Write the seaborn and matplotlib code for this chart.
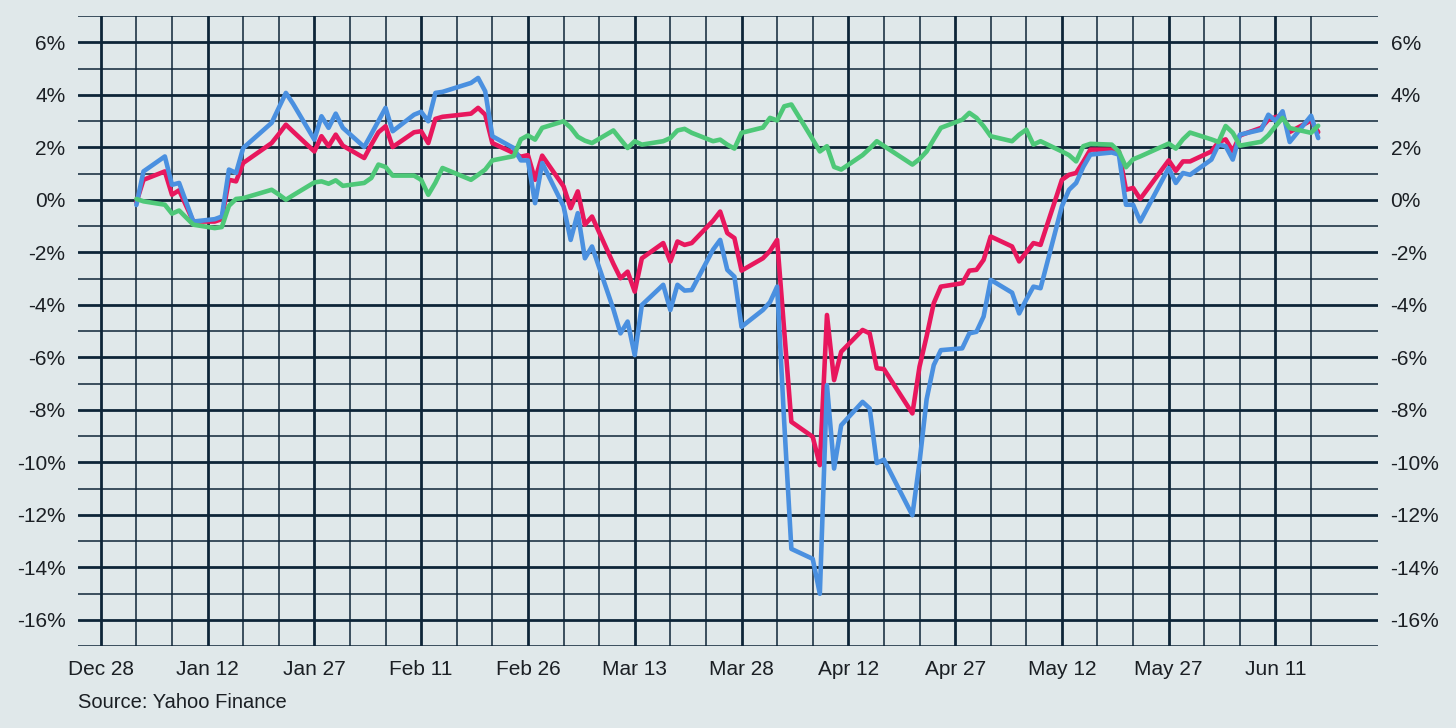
import pandas as pd
import numpy as np
import seaborn as sns
import matplotlib.pyplot as plt
import matplotlib.dates as mdates
from matplotlib.ticker import MultipleLocator, FixedLocator, FuncFormatter

# trading days (2025) and cumulative % change
dates = [
    "2025-01-02", "2025-01-03", "2025-01-06", "2025-01-07", "2025-01-08", "2025-01-10",
    "2025-01-13", "2025-01-14", "2025-01-15", "2025-01-16", "2025-01-17", "2025-01-21",
    "2025-01-22", "2025-01-23", "2025-01-24", "2025-01-27", "2025-01-28", "2025-01-29",
    "2025-01-30", "2025-01-31", "2025-02-03", "2025-02-04", "2025-02-05", "2025-02-06",
    "2025-02-07", "2025-02-10", "2025-02-11", "2025-02-12", "2025-02-13", "2025-02-14",
    "2025-02-18", "2025-02-19", "2025-02-20", "2025-02-21", "2025-02-24", "2025-02-25",
    "2025-02-26", "2025-02-27", "2025-02-28", "2025-03-03", "2025-03-04", "2025-03-05",
    "2025-03-06", "2025-03-07", "2025-03-10", "2025-03-11", "2025-03-12", "2025-03-13",
    "2025-03-14", "2025-03-17", "2025-03-18", "2025-03-19", "2025-03-20", "2025-03-21",
    "2025-03-24", "2025-03-25", "2025-03-26", "2025-03-27", "2025-03-28", "2025-03-31",
    "2025-04-01", "2025-04-02", "2025-04-03", "2025-04-04", "2025-04-07", "2025-04-08",
    "2025-04-09", "2025-04-10", "2025-04-11", "2025-04-14", "2025-04-15", "2025-04-16",
    "2025-04-17", "2025-04-21", "2025-04-22", "2025-04-23", "2025-04-24", "2025-04-25",
    "2025-04-28", "2025-04-29", "2025-04-30", "2025-05-01", "2025-05-02", "2025-05-05",
    "2025-05-06", "2025-05-07", "2025-05-08", "2025-05-09", "2025-05-12", "2025-05-13",
    "2025-05-14", "2025-05-15", "2025-05-16", "2025-05-19", "2025-05-20", "2025-05-21",
    "2025-05-22", "2025-05-23", "2025-05-27", "2025-05-28", "2025-05-29", "2025-05-30",
    "2025-06-02", "2025-06-03", "2025-06-04", "2025-06-05", "2025-06-06", "2025-06-09",
    "2025-06-10", "2025-06-11", "2025-06-12", "2025-06-13", "2025-06-16", "2025-06-17",
]

red_pct = [
    -0.10, 0.76, 1.08, 0.19, 0.36, -0.83,
    -0.83, -0.74, 0.76, 0.70, 1.40, 2.16,
    2.50, 2.86, 2.60, 1.84, 2.42, 2.04,
    2.48, 2.06, 1.59, 2.10, 2.57, 2.80,
    2.01, 2.57, 2.61, 2.16, 3.08, 3.16,
    3.28, 3.50, 3.24, 2.16, 1.78, 1.64,
    1.70, 0.76, 1.68, 0.51, -0.32, 0.32,
    -0.95, -0.64, -2.44, -2.99, -2.74, -3.50,
    -2.23, -1.65, -2.35, -1.59, -1.72, -1.65,
    -0.80, -0.45, -1.27, -1.46, -2.70, -2.23,
    -1.95, -1.53, -5.00, -8.46, -9.03, -10.11,
    -4.39, -6.87, -5.79, -4.96, -5.09, -6.42,
    -6.45, -8.14, -6.36, -5.20, -3.94, -3.31,
    -3.18, -2.70, -2.67, -2.29, -1.40, -1.78,
    -2.35, -2.00, -1.65, -1.72, 0.76, 0.95,
    1.02, 1.45, 1.91, 1.91, 1.85, 0.38,
    0.45, 0.03, 1.50, 1.10, 1.46, 1.46,
    1.84, 2.20, 2.30, 1.85, 2.45, 2.74,
    3.05, 3.15, 3.21, 2.58, 3.02, 2.58,
]

blue_pct = [
    -0.20, 1.08, 1.65, 0.57, 0.64, -0.83,
    -0.74, -0.64, 1.15, 1.02, 1.97, 2.93,
    3.50, 4.07, 3.66, 2.29, 3.18, 2.74,
    3.28, 2.74, 2.01, 2.50, 3.00, 3.50,
    2.61, 3.24, 3.35, 2.99, 4.07, 4.11,
    4.45, 4.64, 4.13, 2.42, 1.97, 1.50,
    1.50, -0.13, 1.40, -0.25, -1.53, -0.51,
    -2.23, -1.78, -4.17, -5.09, -4.64, -5.92,
    -4.01, -3.24, -4.20, -3.24, -3.46, -3.44,
    -1.90, -1.53, -2.67, -2.93, -4.84, -4.20,
    -3.90, -3.31, -8.50, -13.30, -13.68, -15.01,
    -7.06, -10.24, -8.59, -7.70, -7.95, -10.03,
    -9.90, -12.02, -10.00, -7.60, -6.30, -5.73,
    -5.66, -5.09, -5.03, -4.45, -3.05, -3.54,
    -4.33, -3.80, -3.31, -3.37, -0.25, 0.38,
    0.64, 1.25, 1.72, 1.80, 1.72, -0.19,
    -0.19, -0.83, 1.21, 0.64, 1.02, 0.95,
    1.53, 2.10, 2.04, 1.53, 2.48, 2.67,
    3.24, 3.00, 3.37, 2.20, 3.20, 2.35,
]

green_pct = [
    0.03, -0.06, -0.19, -0.53, -0.41, -0.95,
    -1.08, -1.04, -0.23, 0.03, 0.06, 0.38,
    0.20, 0.00, 0.17, 0.66, 0.70, 0.61,
    0.74, 0.53, 0.64, 0.83, 1.34, 1.25,
    0.92, 0.92, 0.76, 0.19, 0.65, 1.21,
    0.76, 0.95, 1.15, 1.50, 1.66, 2.30,
    2.45, 2.29, 2.74, 2.99, 2.75, 2.40,
    2.25, 2.16, 2.64, 2.30, 1.97, 2.23,
    2.10, 2.23, 2.35, 2.64, 2.70, 2.55,
    2.23, 2.29, 2.10, 1.95, 2.55, 2.75,
    3.12, 3.02, 3.56, 3.63, 2.30, 1.84,
    2.04, 1.25, 1.15, 1.70, 1.95, 2.23,
    2.05, 1.34, 1.55, 1.84, 2.30, 2.74,
    3.05, 3.31, 3.12, 2.80, 2.42, 2.23,
    2.48, 2.67, 2.10, 2.23, 1.84, 1.70,
    1.46, 2.04, 2.13, 2.10, 1.84, 1.24,
    1.54, 1.65, 2.14, 1.95, 2.30, 2.56,
    2.30, 2.20, 2.81, 2.55, 2.06, 2.21,
    2.46, 2.80, 3.12, 2.73, 2.55, 2.82,
]

series_colors = {"red": "#E8175D", "blue": "#4A90E0", "green": "#4EC878"}

bg = "#E0E8EA"
grid_col = "#0E2538"
text_col = "#1B1F24"

df = pd.DataFrame({"date": pd.to_datetime(dates), "red": red_pct,
                   "blue": blue_pct, "green": green_pct})
long_df = df.melt(id_vars="date", var_name="series", value_name="pct")

sns.set_style("white", {"axes.facecolor": bg, "figure.facecolor": bg})
plt.rcParams["font.family"] = ["Liberation Sans", "DejaVu Sans"]

fig = plt.figure(figsize=(14.56, 7.28), dpi=100)
ax = fig.add_axes([78 / 1456, 1 - 646 / 728, 1300 / 1456, 630 / 728])

sns.lineplot(data=long_df, x="date", y="pct", hue="series",
             hue_order=["red", "blue", "green"], palette=series_colors,
             linewidth=3.3, estimator=None, legend=False, ax=ax)

# axis limits
start = pd.Timestamp("2024-12-28")
ax.set_xlim(mdates.date2num(start) - 3.2, mdates.date2num(start) + 179.4)
ax.set_ylim(-17, 7)

# grid: major every 15 days / 2%, minor every 5 days / 1%
major_days = pd.date_range(start, "2025-06-11", freq="15D")
minor_days = pd.date_range(start, "2025-06-16", freq="5D")
ax.xaxis.set_major_locator(FixedLocator(mdates.date2num(major_days)))
ax.xaxis.set_minor_locator(FixedLocator(mdates.date2num(minor_days)))
ax.xaxis.set_major_formatter(mdates.DateFormatter("%b %d"))
ax.yaxis.set_major_locator(MultipleLocator(2))
ax.yaxis.set_minor_locator(MultipleLocator(1))
ax.yaxis.set_major_formatter(FuncFormatter(lambda v, p: f"{v:.0f}%"))

ax.set_axisbelow(True)
ax.grid(which="major", color=grid_col, linewidth=2.0)
ax.grid(which="minor", color=grid_col, linewidth=1.1)

for s in ax.spines.values():
    s.set_visible(False)

ax.tick_params(axis="both", which="both", length=0, labelsize=15, colors=text_col)
ax.tick_params(axis="y", labelright=True, pad=9)
ax.tick_params(axis="x", pad=10)
ax.set_xlabel("")
ax.set_ylabel("")

fig.text(78 / 1456, 1 - 703 / 728, "Source: Yahoo Finance", fontsize=14.5,
         color=text_col, va="center", ha="left")

fig.savefig("out.png", dpi=100, facecolor=bg)
